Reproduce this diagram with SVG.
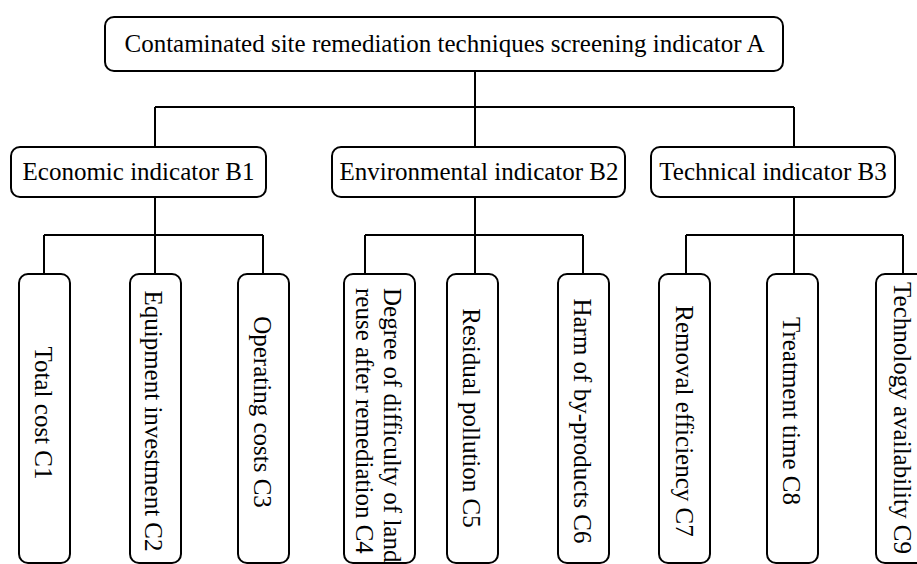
<svg xmlns="http://www.w3.org/2000/svg" width="917" height="564" viewBox="0 0 917 564">
<style>
.box{fill:#fff;stroke:#000;stroke-width:2}
.t{font-family:"Liberation Serif","Times New Roman",serif;font-size:25px;fill:#000}
.m{text-anchor:middle}
.conn{stroke:#000;stroke-width:2;fill:none}
</style>
<rect width="917" height="564" fill="#fff"/>
<g id="connectors" class="conn">
<path d="M475 71V147M155 107H794M155 107V147M794 107V147"/>
<path d="M155 197V235M44 235H263M44 235V274M155 235V274M263 235V274"/>
<path d="M475 197V235M365 235H583M365 235V274M475 235V274M583 235V274"/>
<path d="M794 197V235M686 235H903M686 235V274M794 235V274M903 235V274"/>
</g>
<g id="A">
<rect class="box" x="105" y="17" width="678" height="54" rx="9"/>
<text class="t m" x="444.5" y="52">Contaminated site remediation techniques screening indicator A</text>
</g>
<g id="B1">
<rect class="box" x="11" y="147" width="255" height="50" rx="9"/>
<text class="t m" x="138.5" y="180">Economic indicator B1</text>
</g>
<g id="B2">
<rect class="box" x="332" y="147" width="293" height="50" rx="9"/>
<text class="t m" x="479" y="180">Environmental indicator B2</text>
</g>
<g id="B3">
<rect class="box" x="651" y="147" width="244" height="50" rx="9"/>
<text class="t m" x="773" y="180">Technical indicator B3</text>
</g>
<g id="C1">
<rect class="box" x="19" y="274" width="51" height="289" rx="9"/>
<text class="t m" transform="translate(35 413) rotate(90)">Total cost C1</text>
</g>
<g id="C2">
<rect class="box" x="130" y="274" width="51" height="289" rx="9"/>
<text class="t m" transform="translate(145 421) rotate(90)">Equipment investment C2</text>
</g>
<g id="C3">
<rect class="box" x="238" y="274" width="51" height="289" rx="9"/>
<text class="t m" transform="translate(254 412) rotate(90)">Operating costs C3</text>
</g>
<g id="C4">
<rect class="box" x="344" y="274" width="71" height="289" rx="9"/>
<text class="t" transform="translate(384 288) rotate(90)">Degree of difficulty of land</text>
<text class="t" transform="translate(356 288) rotate(90)">reuse after remediation C4</text>
</g>
<g id="C5">
<rect class="box" x="447" y="274" width="51" height="289" rx="9"/>
<text class="t m" transform="translate(463 418) rotate(90)">Residual pollution C5</text>
</g>
<g id="C6">
<rect class="box" x="558" y="274" width="51" height="289" rx="9"/>
<text class="t m" transform="translate(574 421) rotate(90)">Harm of by-products C6</text>
</g>
<g id="C7">
<rect class="box" x="659" y="274" width="51" height="289" rx="9"/>
<text class="t m" transform="translate(676 421) rotate(90)">Removal efficiency C7</text>
</g>
<g id="C8">
<rect class="box" x="767" y="274" width="51" height="289" rx="9"/>
<text class="t m" transform="translate(783 411) rotate(90)">Treatment time C8</text>
</g>
<g id="C9">
<rect class="box" x="876" y="274" width="51" height="289" rx="9"/>
<text class="t m" transform="translate(894 418) rotate(90)">Technology availability C9</text>
</g>
</svg>
